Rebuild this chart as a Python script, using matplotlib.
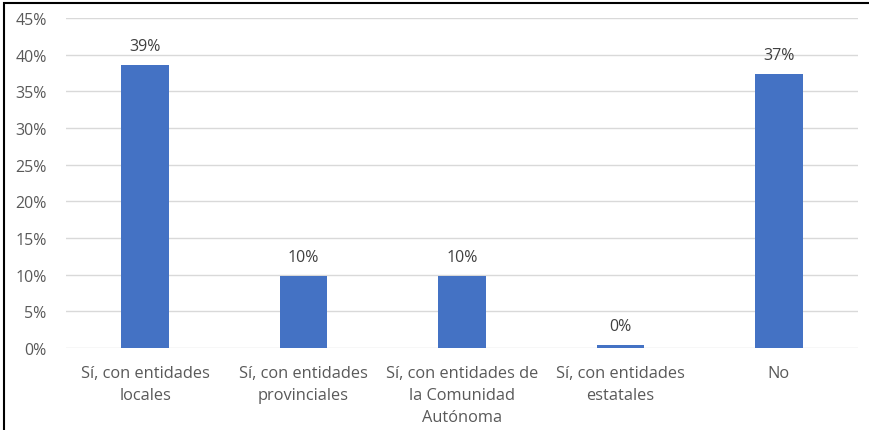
import matplotlib.pyplot as plt
from matplotlib.patches import Rectangle

# Datos
categorias = ['Sí, con entidades\nlocales', 'Sí, con entidades\nprovinciales',
              'Sí, con entidades de\nla Comunidad\nAutónoma', 'Sí, con entidades\nestatales', 'No']
porcentajes = [38.6, 9.8, 9.8, 0.4, 37.4]
yticks = [0, 5, 10, 15, 20, 25, 30, 35, 40, 45]

plt.rcParams['font.family'] = ['Open Sans', 'DejaVu Sans']
gris = '#595959'

fig = plt.figure(figsize=(8.7, 4.31), dpi=100)
ax = fig.add_axes([66 / 870, 1 - 349 / 431, 792 / 870, 330 / 431])

x = range(len(categorias))
barras = ax.bar(x, porcentajes, width=0.30, color='#4472C4', zorder=3)
for b, v in zip(barras, porcentajes):
    ax.text(b.get_x() + b.get_width() / 2, v + 1.5, f'{v:.0f}%',
            ha='center', va='bottom', fontsize=11.5, color='#404040')

ax.set_xlim(-0.5, len(categorias) - 0.5)
ax.set_ylim(0, 45)
ax.set_yticks(yticks)
ax.set_yticklabels([f'{t}%' for t in yticks], fontsize=11.5, color=gris)
ax.set_xticks(list(x))
ax.set_xticklabels(categorias, fontsize=11.8, color=gris, linespacing=1.5)
ax.tick_params(length=0)
ax.tick_params(axis='x', pad=12)
ax.tick_params(axis='y', pad=14)
ax.grid(axis='y', color='#D9D9D9', linewidth=1, zorder=0)
for s in ax.spines.values():
    s.set_visible(False)

# Marco superior e izquierdo
fig.patches.append(Rectangle((4 / 870, -0.1), 1.2, 1.1 - 4 / 431, transform=fig.transFigure,
                             fill=False, edgecolor='black', linewidth=1.5))

fig.savefig('out.png', dpi=100)
